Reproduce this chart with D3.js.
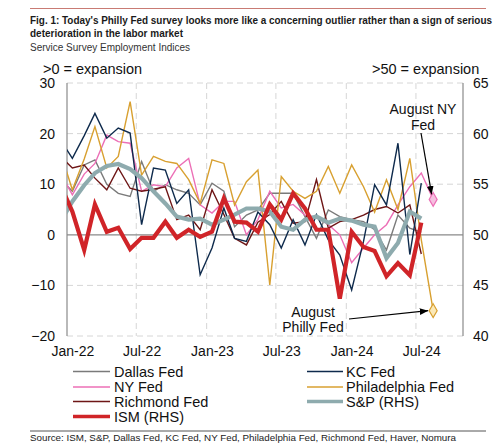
<!DOCTYPE html>
<html><head><meta charset="utf-8">
<script src="https://cdn.jsdelivr.net/npm/d3@7"></script>
<style>body{margin:0;background:#fff;} svg text{font-family:"Liberation Sans",Arial,sans-serif;}</style>
</head><body><svg id="c" width="500" height="443"></svg>
<script>
const months = ["Dec-21",
 "Jan-22","Feb-22","Mar-22","Apr-22","May-22","Jun-22","Jul-22","Aug-22","Sep-22","Oct-22","Nov-22","Dec-22",
 "Jan-23","Feb-23","Mar-23","Apr-23","May-23","Jun-23","Jul-23","Aug-23","Sep-23","Oct-23","Nov-23","Dec-23",
 "Jan-24","Feb-24","Mar-24","Apr-24","May-24","Jun-24","Jul-24","Aug-24"];
const dallas   = [11,8.6,13.8,14.8,10,8.2,7.6,14.5,8.6,9.9,8.9,8.2,5.9,10.2,8.6,1.6,3.9,4.9,8.2,8.2,8.2,3.6,-0.7,4.9,3.6,3,2.6,1,-3,3.9,1.3,0.5,null];
const kc       = [18.8,15.1,19.6,24,19.1,21.1,20.1,2,13.2,12.8,6.2,8.9,-7.9,-2.6,5.3,-0.7,-1.3,4.5,2,-2.6,3,-2,4,-1,-4,-10.9,-1.3,9.9,5.9,18.1,-3.9,10.2,null];
const ny       = [12.2,7.9,12,14.1,19.7,18.4,18.1,8.6,9.9,9.5,13.2,15.1,5.9,4.3,6.6,6.6,0,3,8.6,5.3,6,3.9,3.5,2,0,-5.5,-2.6,0,2,5.9,9.5,12.2,7];
const philly   = [16.3,8.9,15,21.4,13.2,15.5,26.3,11.8,15.5,14.5,14.1,10.9,6.2,14.8,14.1,5.9,10.5,12.8,-9.9,11.5,8.6,7.2,8.6,13.5,8.2,13.8,9.5,4.5,10.9,5,15.1,-1,-15];
const richmond = [15.5,13.2,13.8,11.2,8.9,13.2,9.2,8.6,9,9.5,3,3.9,1,8.9,4,-0.7,-2,2.5,4,6.6,2.3,2.6,10.9,1.3,2.6,3,3.9,5,5.6,4.3,5.9,-3.8,null];
const sp       = [51.3,53.3,54.9,56.1,56.8,57,56.5,55.6,54.3,53.1,51.8,51.5,51.6,51,51.5,52,52.6,52.6,52.3,50.8,50.5,51.5,51.8,51.2,51.6,51.4,51,50.8,47.7,49.2,52.3,51.6,null];
const ism      = [54.9,52.3,48.5,53,50.3,50.7,48.6,49.7,49.7,51.3,49.7,50.5,49.8,50.3,53.6,51.3,51.2,50.3,53,51.5,54.1,52.6,50.5,50.5,43.7,50.3,48.8,48.4,45.9,47.2,46,51.2,null];
const leftTicks = [-20,-10,0,10,20,30];
const rightTicks = [40,45,50,55,60,65];
const xTickLabels = ["Jan-22","Jul-22","Jan-23","Jul-23","Jan-24","Jul-24"];

const series = [
  {name:"Dallas Fed", vals:dallas, axis:"L", color:"#7a7a7a", w:1.4},
  {name:"NY Fed", vals:ny, axis:"L", color:"#ec6fb6", w:1.4},
  {name:"Richmond Fed", vals:richmond, axis:"L", color:"#6e1616", w:1.4},
  {name:"Philadelphia Fed", vals:philly, axis:"L", color:"#d8a030", w:1.4},
  {name:"KC Fed", vals:kc, axis:"L", color:"#0e2a4c", w:1.4},
  {name:"S&P (RHS)", vals:sp, axis:"R", color:"#8eabae", w:4.2},
  {name:"ISM (RHS)", vals:ism, axis:"R", color:"#d02428", w:4.2}
];
const legendOrder = [["Dallas Fed","KC Fed"],["NY Fed","Philadelphia Fed"],["Richmond Fed","S&P (RHS)"],["ISM (RHS)",null]];

const mon = {Jan:0,Feb:1,Mar:2,Apr:3,May:4,Jun:5,Jul:6,Aug:7,Sep:8,Oct:9,Nov:10,Dec:11};
const toDate = (s, day) => new Date(2000 + +s.slice(4), mon[s.slice(0,3)], day);

const svg = d3.select("#c");
const L = 67, R = 463, T = 83, B = 336;
const x = d3.scaleTime().domain([new Date(2022,0,1), new Date(2024,10,1)]).range([L,R]);
const yL = d3.scaleLinear().domain([-20,30]).range([B,T]);
const yR = d3.scaleLinear().domain([40,65]).range([B,T]);

// header
svg.append("line").attr("x1",30).attr("x2",486).attr("y1",8.5).attr("y2",8.5).attr("stroke","#c97b74").attr("stroke-width",1);
svg.append("text").attr("x",30).attr("y",24).attr("font-size",10).attr("font-weight","bold").attr("fill","#1a1a1a")
  .attr("textLength",462).attr("lengthAdjust","spacingAndGlyphs")
  .text("Fig. 1: Today's Philly Fed survey looks more like a concerning outlier rather than a sign of serious");
svg.append("text").attr("x",30).attr("y",37).attr("font-size",10).attr("font-weight","bold").attr("fill","#1a1a1a")
  .attr("textLength",153).attr("lengthAdjust","spacingAndGlyphs")
  .text("deterioration in the labor market");
svg.append("text").attr("x",30).attr("y",50.5).attr("font-size",10).attr("fill","#333").text("Service Survey Employment Indices");

svg.append("text").attr("x",43).attr("y",73.5).attr("font-size",14.5).attr("fill","#111").text(">0 = expansion");
svg.append("text").attr("x",372).attr("y",73.5).attr("font-size",14.5).attr("fill","#111").text(">50 = expansion");

// gridlines
const g = svg.append("g");
g.selectAll("line.hg").data(leftTicks.filter(d=>d!==0)).join("line")
  .attr("x1",L).attr("x2",R).attr("y1",d=>yL(d)).attr("y2",d=>yL(d))
  .attr("stroke","#d6d6d6").attr("stroke-width",1).attr("stroke-dasharray","6,4");
g.selectAll("line.vg").data(xTickLabels.slice(1)).join("line")
  .attr("x1",d=>x(toDate(d,1))).attr("x2",d=>x(toDate(d,1))).attr("y1",T).attr("y2",B)
  .attr("stroke","#d6d6d6").attr("stroke-width",1).attr("stroke-dasharray","6,4");
g.append("line").attr("x1",L).attr("x2",R).attr("y1",yL(0)).attr("y2",yL(0)).attr("stroke","#8a8a8a").attr("stroke-width",1.2);
g.append("line").attr("x1",L).attr("x2",L).attr("y1",T).attr("y2",B).attr("stroke","#8a8a8a").attr("stroke-width",1.2);
g.append("line").attr("x1",R).attr("x2",R).attr("y1",T).attr("y2",B).attr("stroke","#8a8a8a").attr("stroke-width",1.2);

// axes labels
const axL = svg.append("g").attr("transform",`translate(${L-12},0)`)
  .call(d3.axisLeft(yL).tickValues(leftTicks).tickSize(0).tickPadding(0));
axL.select(".domain").remove();
axL.selectAll("text").attr("font-size",14).attr("fill","#111").attr("font-family","Liberation Sans, Arial, sans-serif");
const axR = svg.append("g").attr("transform",`translate(${R+10},0)`)
  .call(d3.axisRight(yR).tickValues(rightTicks).tickSize(0).tickPadding(0));
axR.select(".domain").remove();
axR.selectAll("text").attr("font-size",14).attr("fill","#111").attr("font-family","Liberation Sans, Arial, sans-serif");
const axX = svg.append("g").attr("transform",`translate(0,${B+8})`)
  .call(d3.axisBottom(x).tickValues(xTickLabels.map(d=>toDate(d,15))).tickFormat(d3.timeFormat("%b-%y")).tickSize(0).tickPadding(0));
axX.select(".domain").remove();
axX.selectAll("text").attr("font-size",14).attr("fill","#111").attr("dy","0.85em").attr("font-family","Liberation Sans, Arial, sans-serif");

// clip
svg.append("clipPath").attr("id","clip").append("rect").attr("x",L).attr("y",T-10).attr("width",R-L).attr("height",B-T+20);
const plot = svg.append("g").attr("clip-path","url(#clip)");
series.forEach(s => {
  const ys = s.axis==="L" ? yL : yR;
  const pts = months.map((m,i)=>({d:toDate(m,15), v:s.vals[i]})).filter(p=>p.v!==null);
  plot.append("path").datum(pts)
    .attr("fill","none").attr("stroke",s.color).attr("stroke-width",s.w).attr("stroke-linejoin","miter")
    .attr("d", d3.line().x(p=>x(p.d)).y(p=>ys(p.v)));
});

// August diamonds
const augIdx = months.indexOf("Aug-24");
const dia = d3.symbol().type(d3.symbolDiamond).size(55);
svg.append("path").attr("d",dia()).attr("transform",`translate(${x(toDate(months[augIdx],15))},${yL(ny[augIdx])})`)
  .attr("fill","#f6bfe0").attr("stroke","#ec6fb6").attr("stroke-width",1.2);
svg.append("path").attr("d",dia()).attr("transform",`translate(${x(toDate(months[augIdx],15))},${yL(philly[augIdx])})`)
  .attr("fill","#fbe9b8").attr("stroke","#d8a030").attr("stroke-width",1.2);

// arrows
const defs = svg.append("defs");
defs.append("marker").attr("id","ah").attr("viewBox","0 0 10 10").attr("refX",10).attr("refY",5)
  .attr("markerWidth",7).attr("markerHeight",7).attr("orient","auto-start-reverse")
  .append("path").attr("d","M0,1 L10,5 L0,9 z").attr("fill","#000");
const nyX = x(toDate(months[augIdx],15)), nyY = yL(ny[augIdx]);
svg.append("line").attr("x1",421).attr("y1",133).attr("x2",nyX-1.5).attr("y2",nyY-5).attr("stroke","#000").attr("stroke-width",1.2).attr("marker-end","url(#ah)");
const phY = yL(philly[augIdx]);
svg.append("line").attr("x1",349).attr("y1",319).attr("x2",nyX-5).attr("y2",phY).attr("stroke","#000").attr("stroke-width",1.2).attr("marker-end","url(#ah)");
svg.append("text").attr("x",423).attr("y",114).attr("text-anchor","middle").attr("font-size",14).attr("fill","#111").text("August NY");
svg.append("text").attr("x",423).attr("y",130).attr("text-anchor","middle").attr("font-size",14).attr("fill","#111").text("Fed");
svg.append("text").attr("x",313).attr("y",316.5).attr("text-anchor","middle").attr("font-size",14).attr("fill","#111").text("August");
svg.append("text").attr("x",313).attr("y",331.5).attr("text-anchor","middle").attr("font-size",14).attr("fill","#111").text("Philly Fed");

// legend
const lg = svg.append("g");
const rowY = [371.5, 387, 401.5, 416.5];
const colX = [[73,110,114],[307,343,346]];
legendOrder.forEach((row,ri)=>{
  row.forEach((nm,ci)=>{
    if(!nm) return;
    const s = series.find(d=>d.name===nm);
    lg.append("line").attr("x1",colX[ci][0]).attr("x2",colX[ci][1]).attr("y1",rowY[ri]).attr("y2",rowY[ri])
      .attr("stroke",s.color).attr("stroke-width",s.w===4.2?3.5:1.4);
    lg.append("text").attr("x",colX[ci][2]).attr("y",rowY[ri]+5).attr("font-size",14.5).attr("fill","#111").text(nm);
  });
});

svg.append("line").attr("x1",30).attr("x2",486).attr("y1",431).attr("y2",431).attr("stroke","#555").attr("stroke-width",1);
svg.append("text").attr("x",30).attr("y",440.5).attr("font-size",9.8).attr("fill","#222")
  .text("Source: ISM, S&P, Dallas Fed, KC Fed, NY Fed, Philadelphia Fed, Richmond Fed, Haver, Nomura");
</script></body></html>
